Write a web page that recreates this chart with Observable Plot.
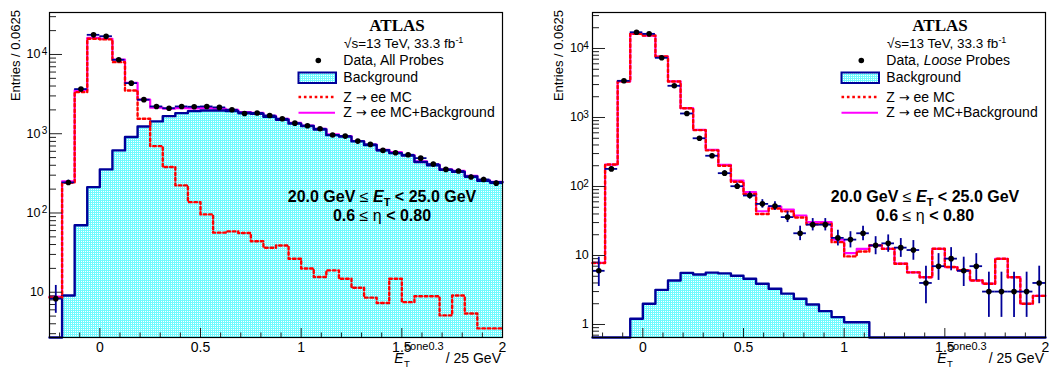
<!DOCTYPE html>
<html><head><meta charset="utf-8">
<script src="https://cdn.jsdelivr.net/npm/d3@7"></script>
<script src="https://cdn.jsdelivr.net/npm/@observablehq/plot@0.6"></script>
<style>
body{margin:0;background:#fff;}
#row{display:flex;width:1049px;height:367px;overflow:hidden;}
#row > div{flex:none;}
svg text{white-space:pre;}
</style></head><body><div id="row"><div id="p1"></div><div id="p2"></div></div>
<script>
// ---- bins (low edges) ----
const binLow = [-0.25,-0.1875,-0.125,-0.0625,0,0.0625,0.125,0.1875,0.25,0.3125,0.375,0.4375,0.5,0.5625,0.625,0.6875,0.75,0.8125,0.875,0.9375,1,1.0625,1.125,1.1875,1.25,1.3125,1.375,1.4375,1.5,1.5625,1.625,1.6875,1.75,1.8125,1.875,1.9375];
const binWidth = 0.0625;
const xDomain = [-0.25, 2];
const xMajorTicks = [0, 0.5, 1, 1.5, 2];
const xMinorTicks = [-0.2,-0.1,0.1,0.2,0.3,0.4,0.6,0.7,0.8,0.9,1.1,1.2,1.3,1.4,1.6,1.7,1.8,1.9];

// ---- left panel: All Probes ----
const leftData = [8.3,243,3660,17700,17000,8580,4350,2690,2210,2100,2210,2190,2210,2150,2010,1800,1830,1700,1545,1360,1260,1155,962,933,807,733,616,575,543,492,414,355,338,284,265,238];
const leftBkg  = [0,9.1,70,212,355,616,908,1236,1430,1667,1820,1928,1960,1960,1930,1840,1786,1640,1500,1340,1250,1130,960,920,800,720,620,570,530,440,400,350,330,290,255,245];
const leftZee  = [8.6,240,3350,15800,15500,8000,3515,1545,698,380,223,137,96,56.5,58.6,56,43.9,36.5,38.9,26.5,19.9,15.6,18.9,14.8,11.4,8.55,7.3,14.8,7.5,8.9,8.9,5.1,9.1,5.4,3.5,3.5];
const leftSum  = [8.8,250,3540,16200,15800,8600,4400,2700,2130,2080,2100,2090,2100,2080,2000,1880,1830,1680,1540,1370,1270,1150,980,935,810,730,627,585,537,449,409,355,339,295,258,248];
const leftYDomain = [2.685, 33860];
const leftYTicks = [10, 100, 1000, 10000];
const leftYTickBase = ["10", "10", "10", "10"];
const leftYTickExp = ["", "2", "3", "4"];

// ---- right panel: Loose Probes ----
const rightData = [6,180,3400,17200,16300,7330,2880,1143,500,279,156,101,74,56,52,36,21,28,28,18,17,21,14,15,13,12,4,7,9,6,7,3,3,3,3,4];
const rightBkg  = [0,0,0,1.21,2.0,3.18,4.35,5.6,5.3,5.65,5.5,5.1,4.6,3.9,3.3,2.8,2.36,1.95,1.56,1.28,1.08,1.08,0,0,0,0,0,0,0,0,0,0,0,0,0,0];
const rightZee  = [7.8,208,3330,16300,15400,7650,3325,1360,657,334,200,117,78,40,48,43.6,35.6,28.4,28.8,15.6,9.7,11.4,14,12.5,7.6,5.7,4.85,12.5,6.8,6.1,4.35,3.9,8.95,4.85,2.0,2.6];
const rightSum  = [7.8,208,3330,16300,15400,7660,3330,1365,662,340,206,122,82.8,43.8,51.3,46.4,38,30.4,30.4,16.9,10.8,12.5,14,12.5,7.6,5.7,4.85,12.5,6.8,6.1,4.35,3.9,8.95,4.85,2.0,2.6];
const rightYDomain = [0.648, 33240];
const rightYTicks = [1, 10, 100, 1000, 10000];
const rightYTickBase = ["1", "10", "10", "10", "10"];
const rightYTickExp = ["", "", "2", "3", "4"];

const NAVY = "#000099", MAGENTA = "#ff00ff", RED = "#ff0000";
const FONT = "Liberation Sans, Arial, sans-serif";

function panel(cfg) {
  const W = cfg.width, H = 367, mt = 12, mb = 30, ml = cfg.ml, mr = cfg.mr;
  const fw = W - ml - mr, fh = H - mt - mb;
  const [y0, y1] = cfg.yDomain;
  const last = binLow.length - 1;
  const stepRows = arr => {
    const r = binLow.map((x, i) => ({x, v: Math.max(arr[i], y0)}));
    r.push({x: binLow[last] + binWidth, v: r[last].v});
    return r;
  };
  const pts = binLow.map((x, i) => ({c: x + binWidth / 2, x0: x, x1: x + binWidth, v: cfg.data[i]}));
  const minor = [];
  for (let e = Math.floor(Math.log10(y0)); e <= Math.ceil(Math.log10(y1)); e++)
    for (let d = 2; d <= 9; d++) { const t = d * Math.pow(10, e); if (t >= y0 && t <= y1) minor.push(t); }
  const patId = cfg.id + "pat";
  const expIdx = cfg.yTicks.map((t, i) => i).filter(i => cfg.yExp[i] !== "");
  const plainIdx = cfg.yTicks.map((t, i) => i).filter(i => cfg.yExp[i] === "");
  const plot = Plot.plot({
    width: W, height: H, marginTop: mt, marginBottom: mb, marginLeft: ml, marginRight: mr,
    style: {fontFamily: FONT, background: "white", overflow: "visible"},
    x: {domain: xDomain, axis: null},
    y: {type: "log", domain: [y0, y1], axis: null},
    marks: [
      Plot.areaY(stepRows(cfg.bkg), {x: "x", y1: () => y0, y2: "v", curve: "step-after", fill: `url(#${patId})`}),
      Plot.line(stepRows(cfg.sum), {x: "x", y: "v", curve: "step-after", stroke: MAGENTA, strokeWidth: 2.2}),
      Plot.line(stepRows(cfg.bkg), {x: "x", y: "v", curve: "step-after", stroke: NAVY, strokeWidth: 2.4}),
      Plot.line(stepRows(cfg.zee), {x: "x", y: "v", curve: "step-after", stroke: RED, strokeWidth: 2.4, strokeDasharray: "2.6,2.8"}),
      Plot.ruleX(xMinorTicks, {x: d => d, insetTop: fh - 4.5, stroke: "#222"}),
      Plot.ruleX(xMajorTicks, {x: d => d, insetTop: fh - 9, stroke: "#222"}),
      Plot.ruleY(minor, {y: d => d, insetRight: fw - 7, stroke: "#222"}),
      Plot.ruleY(cfg.yTicks, {y: d => d, insetRight: fw - 13, stroke: "#222"}),
      Plot.ruleX(pts, {x: "c", y1: d => Math.max(d.v - Math.sqrt(d.v), y0), y2: d => d.v + Math.sqrt(d.v) + 1, stroke: NAVY, strokeWidth: 1.8}),
      Plot.ruleY(pts, {y: "v", x1: "x0", x2: "x1", stroke: NAVY, strokeWidth: 1.8}),
      Plot.dot(pts, {x: "c", y: "v", r: 2.8, fill: "black", stroke: "none"}),
      Plot.frame({stroke: "black", strokeWidth: 1.2}),
      Plot.text(xMajorTicks, {x: d => d, frameAnchor: "bottom", lineAnchor: "top", dy: 4.7, text: d => String(d), fontSize: 14, fill: "black"}),
      Plot.text(expIdx, {y: i => cfg.yTicks[i], frameAnchor: "left", textAnchor: "end", dx: cfg.baseDx, text: i => cfg.yBase[i], fontSize: 12.5, fill: "black"}),
      Plot.text(expIdx, {y: i => cfg.yTicks[i], frameAnchor: "left", textAnchor: "end", dx: cfg.expDx, dy: -3, text: i => cfg.yExp[i], fontSize: 10, fill: "black"}),
      Plot.text(plainIdx, {y: i => cfg.yTicks[i], frameAnchor: "left", textAnchor: "end", dx: cfg.plainDx, text: i => cfg.yBase[i], fontSize: 12.5, fill: "black"})
    ]
  });
  document.getElementById(cfg.id).appendChild(plot);
  const svg = d3.select(plot);
  const pat = svg.insert("defs", ":first-child").append("pattern")
    .attr("id", patId).attr("width", 2).attr("height", 2).attr("patternUnits", "userSpaceOnUse");
  pat.append("rect").attr("width", 2).attr("height", 2).attr("fill", "#70fbff");
  pat.append("rect").attr("x", 1).attr("y", 1).attr("width", 1).attr("height", 1).attr("fill", "#ffffff");

  const fr = W - mr;
  const g = svg.append("g").attr("font-family", FONT).attr("fill", "black").attr("text-anchor", "start");
  // y title
  g.append("text").attr("transform", `translate(${ml - 29},10) rotate(-90)`)
    .attr("text-anchor", "end").attr("font-size", 13).text("Entries / 0.0625");
  // x title
  const xt = g.append("g");
  const base = 363;
  const E = xt.append("text").attr("x", 0).attr("y", base).attr("font-size", 14).attr("font-style", "italic").text("E");
  const wE = E.node().getComputedTextLength() + 0.5;
  xt.append("text").attr("x", wE).attr("y", base + 3.5).attr("font-size", 9.5).text("T");
  const S = xt.append("text").attr("x", wE + 0.5).attr("y", base - 12.8).attr("font-size", 11).text("cone0.3");
  const wS = S.node().getComputedTextLength() + 2.5;
  const R = xt.append("text").attr("x", wE + wS).attr("y", base).attr("font-size", 14).text("/ 25 GeV");
  const total = wE + wS + R.node().getComputedTextLength();
  xt.attr("transform", `translate(${fr - 1 - total},0)`);

  // legend
  g.append("text").attr("x", fr - 105).attr("y", 30.7).attr("text-anchor", "middle")
    .attr("font-family", "Liberation Serif, Times New Roman, serif").attr("font-weight", "bold").attr("font-size", 17).text("ATLAS");
  const sq = g.append("text").attr("x", fr - 158).attr("y", 48.3).attr("font-size", 13.5);
  sq.append("tspan").text("\u221As=13 TeV, 33.3 fb");
  sq.append("tspan").attr("dy", -5).attr("font-size", 9).text("-1");
  g.append("circle").attr("cx", fr - 183.7).attr("cy", 60.5).attr("r", 2.8).attr("fill", "black");
  const dt = g.append("text").attr("x", fr - 158.7).attr("y", 65.3).attr("font-size", 14);
  cfg.dataLabel.forEach(p => dt.append("tspan").attr("font-style", p.italic ? "italic" : null).text(p.t));
  g.append("rect").attr("x", fr - 203.5).attr("y", 72.5).attr("width", 37.5).attr("height", 10.5)
    .attr("fill", `url(#${patId})`).attr("stroke", NAVY).attr("stroke-width", 2);
  g.append("text").attr("x", fr - 158.7).attr("y", 81.7).attr("font-size", 14).text("Background");
  g.append("line").attr("x1", fr - 203.5).attr("x2", fr - 167).attr("y1", 97).attr("y2", 97)
    .attr("stroke", RED).attr("stroke-width", 2.5).attr("stroke-dasharray", "2.6,2.8");
  const arrowLabel = (y, rest) => {
    const t = g.append("text").attr("x", fr - 158.7).attr("y", y).attr("font-size", 14);
    t.append("tspan").text("Z ");
    t.append("tspan").attr("font-family", "DejaVu Sans, sans-serif").attr("font-size", 13).text("\u2192");
    t.append("tspan").text(rest);
  };
  arrowLabel(101.7, " ee MC");
  g.append("line").attr("x1", fr - 203.5).attr("x2", fr - 167).attr("y1", 112.7).attr("y2", 112.7)
    .attr("stroke", MAGENTA).attr("stroke-width", 2);
  arrowLabel(117.3, " ee MC+Background");

  // annotation
  const a1 = g.append("text").attr("x", fr - 120).attr("y", 201.7).attr("text-anchor", "middle")
    .attr("font-size", 16).attr("font-weight", "bold");
  a1.append("tspan").text("20.0 GeV ");
  a1.append("tspan").attr("font-weight", "normal").text("\u2264");
  a1.append("tspan").text(" ");
  a1.append("tspan").attr("font-style", "italic").text("E");
  a1.append("tspan").attr("font-size", 11).attr("dy", 4).text("T");
  a1.append("tspan").attr("dy", -4).text(" < 25.0 GeV");
  const a2 = g.append("text").attr("x", fr - 120).attr("y", 221).attr("text-anchor", "middle")
    .attr("font-size", 16).attr("font-weight", "bold");
  a2.append("tspan").text("0.6 ");
  a2.append("tspan").attr("font-weight", "normal").text("\u2264 \u03B7");
  a2.append("tspan").text(" < 0.80");
}

panel({id: "p1", width: 524, ml: 49, mr: 22, yDomain: leftYDomain,
  data: leftData, bkg: leftBkg, zee: leftZee, sum: leftSum,
  yTicks: leftYTicks, yBase: leftYTickBase, yExp: leftYTickExp,
  baseDx: -9, expDx: -2.3, plainDx: -5.7,
  dataLabel: [{t: "Data, All Probes"}]});
panel({id: "p2", width: 525, ml: 68, mr: 4, yDomain: rightYDomain,
  data: rightData, bkg: rightBkg, zee: rightZee, sum: rightSum,
  yTicks: rightYTicks, yBase: rightYTickBase, yExp: rightYTickExp,
  baseDx: -8.7, expDx: -3.7, plainDx: -3.7,
  dataLabel: [{t: "Data, "}, {t: "Loose", italic: true}, {t: " Probes"}]});
</script></body></html>
